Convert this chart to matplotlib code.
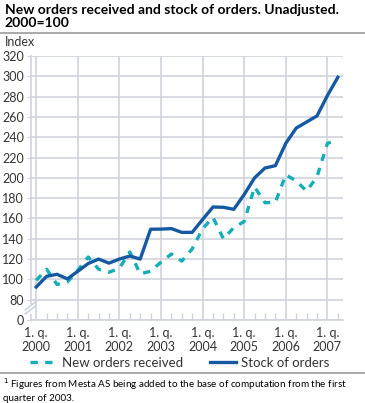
import numpy as np
import matplotlib.pyplot as plt
from matplotlib.lines import Line2D

plt.rcParams['font.family'] = ['Lato', 'DejaVu Sans']

# quarterly values, 2000 Q1 .. 2007 Q2
new_orders = [99, 110, 95, 97.5, 109, 122, 110, 107, 111, 127, 105.5, 108,
              117, 125, 118, 130, 150, 161, 140, 151, 157, 191, 175.5, 176,
              203, 197, 187, 201, 234, 237]
stock = [92.5, 103, 105, 100.5, 108, 115.6, 120, 116, 120, 123, 120, 149.4,
         149.5, 150, 146.3, 146.3, 159, 171.3, 171, 169, 183.6, 200, 209.7, 212,
         234, 249, 255, 261, 281, 299]
years = ['2000', '2001', '2002', '2003', '2004', '2005', '2006', '2007']
yticks = [0, 80, 100, 120, 140, 160, 180, 200, 220, 240, 260, 280, 300, 320]

grid_c = '#cfd3db'
teal = '#14adb8'
blue = '#1559a3'
txt_c = '#333333'

fig = plt.figure(figsize=(3.65, 4.03), dpi=100)
ax = fig.add_axes([31/365, 1-320/403, 312/365, 264/403])

q = np.arange(len(stock))

# broken axis: 0 is drawn one step below 80
def ymap(v):
    return v if v >= 80 else 60 + v * 20 / 80

ax.plot(q, new_orders, color=teal, lw=2.4, ls=(0, (2.2, 2.2)), label='New orders received', zorder=3)
ax.plot(q, stock, color=blue, lw=2.4, label='Stock of orders', zorder=4)

ax.set_xlim(-0.5, 29.5)
ax.set_ylim(60, 320)
ax.set_yticks([ymap(v) for v in yticks])
ax.set_yticklabels([str(v) for v in yticks], fontsize=9, color=txt_c)
ax.set_xticks(np.arange(0, 29, 4))
ax.set_xticklabels(['1. q.\n' + y for y in years], fontsize=9, color=txt_c, linespacing=1.2)
ax.set_xticks(np.arange(0, 30), minor=True)
ax.tick_params(axis='x', which='major', length=0, pad=5)
ax.tick_params(axis='x', which='minor', length=5, direction='in', color=grid_c, width=1)
ax.tick_params(axis='y', length=3, color=grid_c, pad=2)
ax.grid(True, which='major', color=grid_c, lw=1.2)
ax.set_axisbelow(True)
for s in ['top', 'right']:
    ax.spines[s].set_visible(False)
for s in ['left', 'bottom']:
    ax.spines[s].set_color(grid_c)
    ax.spines[s].set_linewidth(1.2)

# axis break marks
for dy in (0, 4):
    ax.plot([-1.05, -0.05], [66 + dy, 74 + dy], color=grid_c, lw=1.2, clip_on=False, zorder=5)
ax.plot([-0.5, -0.5], [67, 75], color='white', lw=1.5, clip_on=False, zorder=4)

fig.text(0.013, 0.99, 'New orders received and stock of orders. Unadjusted.\n2000=100',
         fontsize=10, fontweight='bold', va='top', ha='left', linespacing=1.05)
fig.add_artist(Line2D([0.0, 1.0], [1-33/403, 1-33/403], color='#999999', lw=1.2))
fig.text(0.013, 1-42/403, 'Index', fontsize=9, va='center', ha='left', color=txt_c)

fig.legend(loc='center', bbox_to_anchor=(180/365, 1-363/403), ncol=2, frameon=False,
           fontsize=9.5, handlelength=2.0, columnspacing=2.0, handletextpad=0.4,
           labelcolor=txt_c)
fig.add_artist(Line2D([0.0, 1.0], [1-373/403, 1-373/403], color='#999999', lw=1.2))
fig.text(0.008, 1-376/403, '$^1$ Figures from Mesta AS being added to the base of computation from the first\nquarter of 2003.',
         fontsize=7.1, va='top', ha='left', linespacing=1.25)

fig.savefig('out.png', dpi=100)
